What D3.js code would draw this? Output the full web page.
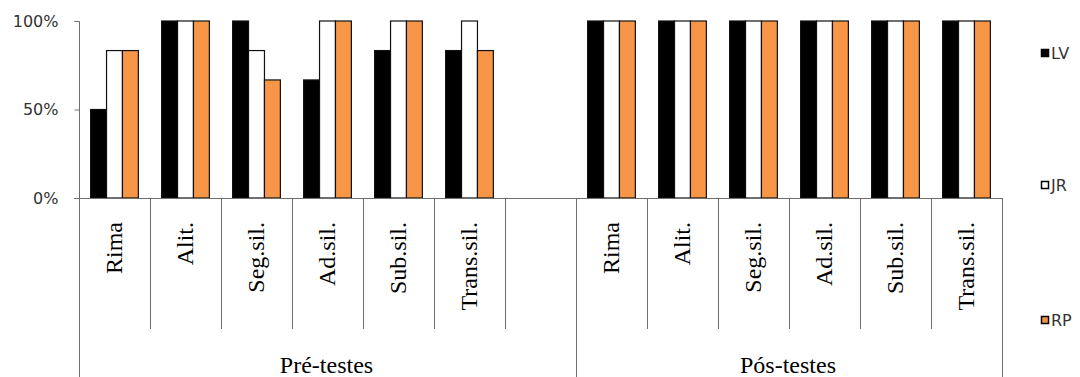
<!DOCTYPE html>
<html><head><meta charset="utf-8">
<script src="https://cdn.jsdelivr.net/npm/d3@7"></script>
<style>body{margin:0;background:#fff;} svg{display:block;}</style>
</head><body>
<svg id="chart" width="1080" height="377"></svg>
<script>
const categories = ["Rima","Alit.","Seg.sil.","Ad.sil.","Sub.sil.","Trans.sil."];
const groups = ["Pré-testes","Pós-testes"];
const seriesNames = ["LV","JR","RP"];
const seriesColors = ["#000000","#ffffff","#F79646"];
const LV_pre  = [0.5, 1, 1, 0.667, 0.833, 0.833];
const JR_pre  = [0.833, 1, 0.833, 1, 1, 1];
const RP_pre  = [0.833, 1, 0.667, 1, 1, 0.833];
const LV_post = [1, 1, 1, 1, 1, 1];
const JR_post = [1, 1, 1, 1, 1, 1];
const RP_post = [1, 1, 1, 1, 1, 1];
const yTicks = [0, 0.5, 1];

const values = {
  "Pré-testes": [LV_pre, JR_pre, RP_pre],
  "Pós-testes": [LV_post, JR_post, RP_post]
};

// slots: 6 pre, 1 empty, 6 post
const slots = [];
categories.forEach((c,i)=>slots.push({key:"pre"+i, group:groups[0], cat:c, idx:i}));
slots.push({key:"gap", group:null});
categories.forEach((c,i)=>slots.push({key:"post"+i, group:groups[1], cat:c, idx:i}));

const svg = d3.select("#chart");
const x0 = d3.scaleBand().domain(slots.map(s=>s.key)).range([79, 1002]).paddingInner(0).paddingOuter(0);
const x1 = d3.scaleBand().domain(seriesNames).range([0, x0.bandwidth()]).paddingInner(0).paddingOuter(0.73);
const y = d3.scaleLinear().domain([0,1]).range([198, 21]);

const axisColor = "#6e6e6e";

// bars
const barData = [];
slots.forEach(s=>{
  if(!s.group) return;
  seriesNames.forEach((n,k)=>{
    barData.push({slot:s.key, series:n, color:seriesColors[k], v: values[s.group][k][s.idx]});
  });
});
svg.append("g").selectAll("rect").data(barData).join("rect")
  .attr("x", d=>x0(d.slot)+x1(d.series))
  .attr("y", d=>y(d.v))
  .attr("width", x1.bandwidth())
  .attr("height", d=>y(0)-y(d.v))
  .attr("fill", d=>d.color)
  .attr("stroke", "#111")
  .attr("stroke-width", 1.2);

// y axis
const yAxis = d3.axisLeft(y).tickValues(yTicks).tickFormat(d3.format(".0%")).tickSize(5).tickPadding(16);
const ya = svg.append("g").attr("transform","translate(79.5,0)").call(yAxis);
ya.select(".domain").attr("stroke", axisColor).attr("d", "M-5,21.5H0V198.5");
ya.selectAll(".tick line").attr("stroke", axisColor);
ya.selectAll(".tick text").attr("font-family","'DejaVu Sans', Verdana, sans-serif").attr("font-size","16px").attr("fill","#333");

// baseline
svg.append("line").attr("x1",74).attr("x2",1003).attr("y1",198.5).attr("y2",198.5).attr("stroke",axisColor);

// category dividers
const bounds = slots.map(s=>x0(s.key)).concat([x0.range()[1]]);
bounds.forEach((bx,i)=>{
  const long = (i===0 || i===7 || i===13);
  svg.append("line")
    .attr("x1", Math.round(bx)+0.5).attr("x2", Math.round(bx)+0.5)
    .attr("y1", 198.5).attr("y2", long ? 377 : 329)
    .attr("stroke", axisColor);
});

// category labels (rotated)
slots.forEach(s=>{
  if(!s.group) return;
  const cx = x0(s.key) + x0.bandwidth()/2;
  svg.append("text")
    .attr("transform", `translate(${cx},222) rotate(-90)`)
    .attr("text-anchor","end")
    .attr("dy","0.33em")
    .attr("font-family","'Liberation Serif','Times New Roman',serif")
    .attr("font-size","24px")
    .attr("fill","#000")
    .text(s.cat);
});

// group labels
groups.forEach((g,gi)=>{
  const first = slots.find(s=>s.group===g);
  const startX = gi===0 ? x0.range()[0] : x0("gap")+x0.bandwidth();
  const endX = gi===0 ? x0("gap")+x0.bandwidth() : x0.range()[1];
  svg.append("text")
    .attr("x", (startX+endX)/2 - 1)
    .attr("y", 373)
    .attr("text-anchor","middle")
    .attr("font-family","'Liberation Serif','Times New Roman',serif")
    .attr("font-size","24px")
    .attr("fill","#000")
    .text(g);
});

// legend
const legendY = [53, 185, 320];
const lg = svg.append("g").selectAll("g").data(seriesNames).join("g")
  .attr("transform",(d,i)=>`translate(1041,${legendY[i]})`);
lg.append("rect").attr("x",0.5).attr("y",-3.5).attr("width",7).attr("height",7)
  .attr("fill",(d,i)=>seriesColors[i]).attr("stroke","#000").attr("stroke-width",1.5);
lg.append("text").attr("x",10).attr("dy","0.36em")
  .attr("font-family","'DejaVu Sans', Verdana, sans-serif").attr("font-size","16px")
  .attr("fill","#333").text(d=>d);
</script>
</body></html>
